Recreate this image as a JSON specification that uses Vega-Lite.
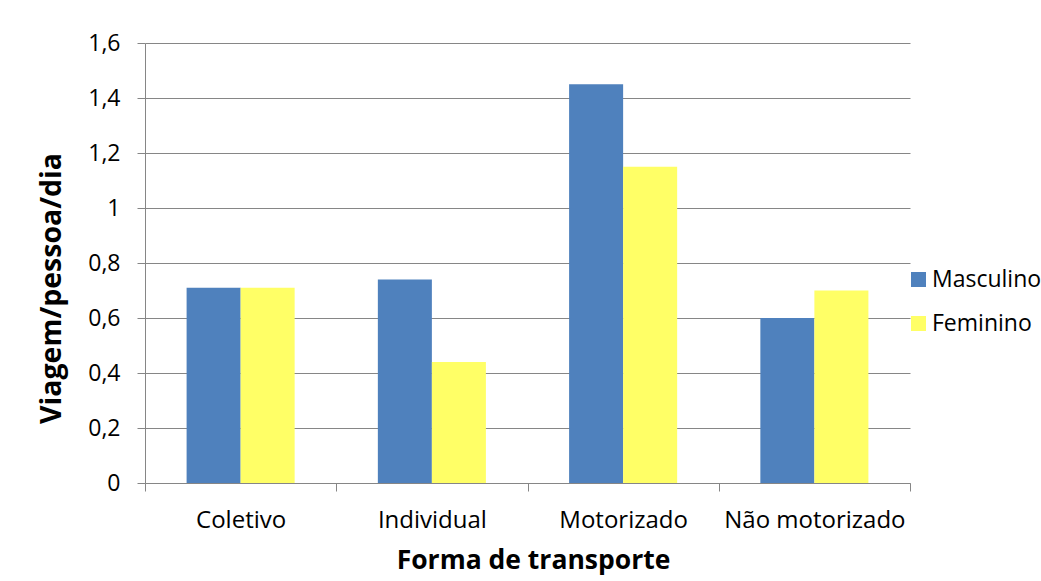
{
  "$schema": "https://vega.github.io/schema/vega-lite/v6.json",
  "width": 765,
  "height": 440,
  "autosize": "none",
  "padding": {"left": 145, "top": 43, "right": 131, "bottom": 98},
  "background": "white",
  "data": {
    "values": [
      {"forma": "Coletivo", "sexo": "Masculino", "valor": 0.71},
      {"forma": "Coletivo", "sexo": "Feminino", "valor": 0.71},
      {"forma": "Individual", "sexo": "Masculino", "valor": 0.74},
      {"forma": "Individual", "sexo": "Feminino", "valor": 0.44},
      {"forma": "Motorizado", "sexo": "Masculino", "valor": 1.45},
      {"forma": "Motorizado", "sexo": "Feminino", "valor": 1.15},
      {"forma": "Não motorizado", "sexo": "Masculino", "valor": 0.6},
      {"forma": "Não motorizado", "sexo": "Feminino", "valor": 0.7}
    ]
  },
  "mark": {"type": "bar"},
  "encoding": {
    "x": {
      "field": "forma",
      "type": "nominal",
      "sort": ["Coletivo", "Individual", "Motorizado", "Não motorizado"],
      "scale": {"paddingInner": 0, "paddingOuter": 0},
      "axis": {
        "title": "Forma de transporte",
        "titleFontSize": 26.5,
        "titleFontWeight": "bold",
        "titleColor": "black",
        "titleBaseline": "alphabetic",
        "titleAlign": "center",
        "titleX": 388,
        "titleY": 85,
        "labelAngle": 0,
        "labelFontSize": 24,
        "labelColor": "black",
        "labelBaseline": "alphabetic",
        "labelPadding": 36,
        "labelLimit": 0,
        "tickBand": "extent",
        "tickSize": 8,
        "tickColor": "#868686",
        "domainColor": "#868686",
        "grid": false
      }
    },
    "xOffset": {
      "field": "sexo",
      "type": "nominal",
      "sort": ["Masculino", "Feminino"],
      "scale": {"paddingInner": 0, "paddingOuter": 0.77}
    },
    "y": {
      "field": "valor",
      "type": "quantitative",
      "scale": {"domain": [0, 1.6], "nice": false},
      "axis": {
        "title": "Viagem/pessoa/dia",
        "titleFontSize": 28.5,
        "titleFontWeight": "bold",
        "titleColor": "black",
        "titleAngle": -90,
        "titleBaseline": "alphabetic",
        "titleAlign": "center",
        "titleX": -85,
        "titleY": 245,
        "values": [0, 0.2, 0.4, 0.6, 0.8, 1, 1.2, 1.4, 1.6],
        "labelExpr": "replace(format(datum.value, '~g'), '.', ',')",
        "labelFontSize": 23,
        "labelColor": "black",
        "labelPadding": 17,
        "tickSize": 8,
        "tickColor": "#868686",
        "domainColor": "#868686",
        "grid": true,
        "gridColor": "#868686"
      }
    },
    "color": {
      "field": "sexo",
      "type": "nominal",
      "sort": ["Masculino", "Feminino"],
      "scale": {"domain": ["Masculino", "Feminino"], "range": ["#4F81BD", "#FFFF66"]},
      "legend": {
        "title": null,
        "orient": "none",
        "legendX": 762,
        "legendY": 225,
        "padding": 0,
        "symbolType": "square",
        "symbolSize": 225,
        "symbolStrokeWidth": 0,
        "symbolOpacity": 1,
        "labelFontSize": 23,
        "labelColor": "black",
        "labelOffset": 2,
        "labelLimit": 0,
        "rowPadding": 20
      }
    }
  },
  "config": {
    "view": {"stroke": null},
    "font": "Open Sans"
  }
}
